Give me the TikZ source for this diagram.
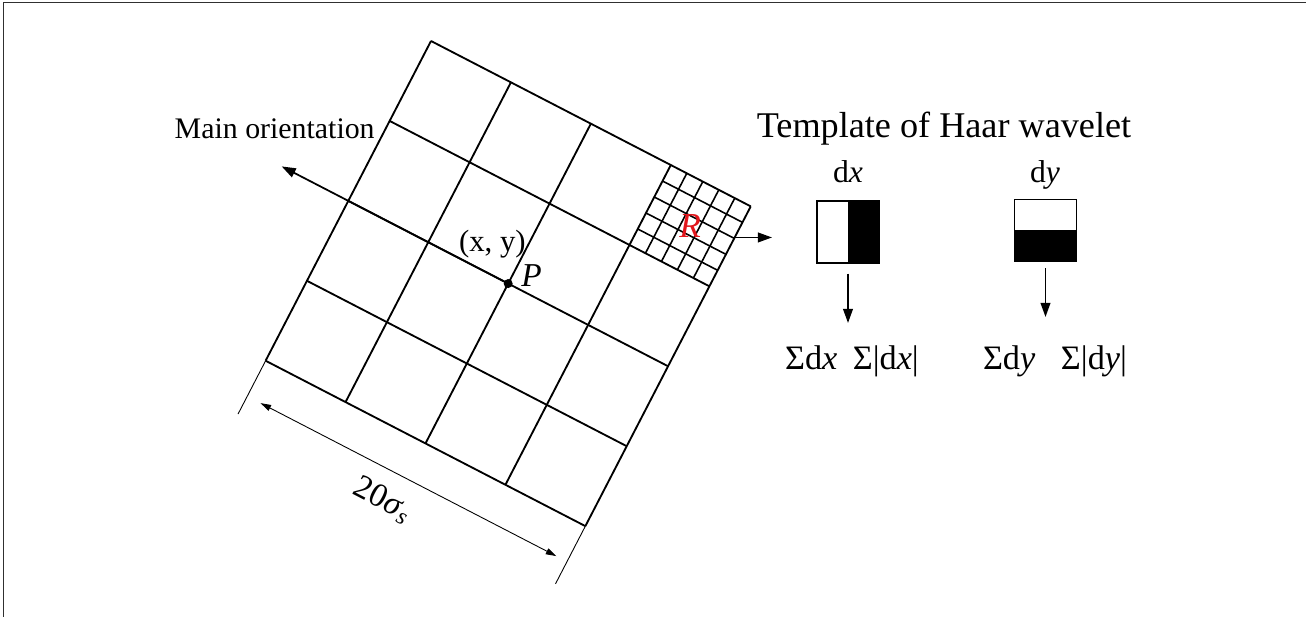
\documentclass[tikz,border=0pt]{standalone}
\usepackage{fontspec}
\setmainfont{Liberation Serif}
\usepackage{xcolor}
\usepackage{tikz}
\usetikzlibrary{arrows.meta,positioning,calc}
\definecolor{frame}{HTML}{303030}
\definecolor{rmark}{HTML}{E2161C}

\begin{document}
\begin{tikzpicture}[
x=0.02cm,y=-0.02cm,
gridline/.style={line width=1.05pt},
thinline/.style={line width=0.5pt},
arr/.style={-{Triangle[length=8pt,width=5.5pt]},line width=1pt},
dimarr/.style={{Triangle[length=6pt,width=3.6pt]}-{Triangle[length=6pt,width=3.6pt]},line width=0.5pt},
lbl/.style={font=\fontsize{18pt}{20pt}\selectfont,inner sep=0pt},
haar/.style={draw,line width=0.6pt,minimum width=1.24cm,minimum height=1.24cm,inner sep=0pt}
]
\useasboundingbox (0,0) rectangle (1306,617);
\draw[frame,line width=1.1pt] (3.5,617) -- (3.5,2.5) -- (1306,2.5);

% rotated window around P
\begin{scope}[shift={(431,41)},rotate=-27.35]
\foreach \i in {0,90,...,360} {
  \draw[gridline] (\i,0) -- (\i,360);
  \draw[gridline] (0,\i) -- (360,\i);
}
\foreach \j in {18,36,54,72} {
  \draw[line width=0.9pt] (270+\j,0) -- (270+\j,90);
  \draw[line width=0.9pt] (270,\j) -- (360,\j);
}
\draw[thinline] (0,360) -- (0,420);
\draw[thinline] (360,360) -- (360,425);
\coordinate (dimL) at (15,400);
\coordinate (dimR) at (348,400);
\draw[dimarr] (dimL) -- (dimR);
\node[lbl,font=\fontsize{19pt}{21pt}\selectfont,rotate=-27.35] (dimlbl) at (168,430) {20\textit{σ}\textsubscript{\textit{s}}};
\node[circle,fill,inner sep=0pt,minimum size=0.18cm] (p) at (180,180) {};
\coordinate (motip) at (-75,180);
\node[lbl,font=\fontsize{20pt}{22pt}\selectfont,text=rmark] (r) at (315,45) {\textit{R}};
\coordinate (rstart) at (360,35);
\end{scope}

\draw[arr] (p) -- (motip);
\node[lbl,font=\fontsize{17pt}{19pt}\selectfont,anchor=base east] (molbl) at (375,139) {Main orientation};
\node[lbl,font=\fontsize{17.5pt}{19pt}\selectfont,anchor=base east] (xy) at (526,252) {(x, y)};
\node[lbl,font=\fontsize{19pt}{21pt}\selectfont,anchor=base west] (plbl) at (521,287) {\textit{P}};
\coordinate (rend) at (772,0);
\draw[arr] (rstart) -- (rstart -| rend);

% Haar templates
\node[lbl,font=\fontsize{20.6pt}{22pt}\selectfont,anchor=base] (title) at (944,138) {Template of Haar wavelet};
\node[lbl,anchor=base] (dxlbl) at (848,183) {d\textit{x}};
\node[lbl,anchor=base] (dylbl) at (1045,183) {d\textit{y}};
\node[haar] (dxbox) at (848,232) {};
\fill (dxbox.north) rectangle (dxbox.south east);
\node[haar] (dybox) at (1045.5,230.5) {};
\fill (dybox.west) rectangle (dybox.south east);
\coordinate (dxend) at (848,323);
\coordinate (dyend) at (1045.5,317);
\draw[arr,shorten <=0.2cm] (dxbox) -- (dxend);
\draw[arr,shorten <=0.12cm] (dybox) -- (dyend);
\node[lbl,font=\fontsize{19.5pt}{21pt}\selectfont,anchor=base] (dxsum) at (852,370) {Σd\textit{x}\hspace{0.45em}Σ|d\textit{x}|};
\node[lbl,font=\fontsize{19.5pt}{21pt}\selectfont,anchor=base] (dysum) at (1055,370) {Σd\textit{y}\hspace{0.75em}Σ|d\textit{y}|};
\end{tikzpicture}
\end{document}
